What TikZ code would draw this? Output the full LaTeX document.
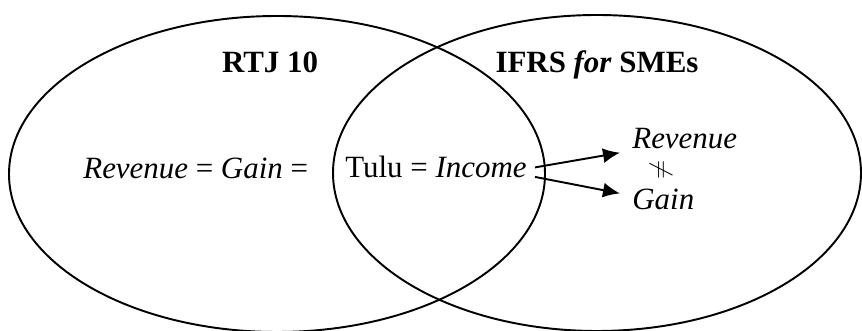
\documentclass[tikz,border=0pt]{standalone}
\usepackage{fontspec}
\setmainfont{Liberation Serif}
\usetikzlibrary{arrows.meta}

\begin{document}
\begin{tikzpicture}[font=\fontsize{17.6}{21}\selectfont,
  every node/.style={inner sep=0pt, anchor=base},
  arr/.style={line width=1.1pt, -{Latex[length=0.34cm,width=0.3cm]}}]

\useasboundingbox (0,0) rectangle (17.24,6.62);

\draw[line width=1.1pt] (5.54,3.14) ellipse (5.36 and 3.16);  % RTJ 10
\draw[line width=1.1pt] (11.94,3.16) ellipse (5.28 and 3.16); % IFRS for SMEs

\node (rtj) at (5.40,5.16) {\textbf{RTJ 10}};
\node (ifrs) at (11.94,5.16) {\textbf{IFRS \textit{for} SMEs}};

\node (left) at (1.66,3.04)[anchor=base west] {\textit{Revenue} = \textit{Gain} =};
\node (tulu) at (6.90,3.06)[anchor=base west] {Tulu = \textit{Income}};

\node (rev) at (12.64,3.64)[anchor=base west] {\textit{Revenue}};
\node (gain) at (12.64,2.42)[anchor=base west] {\textit{Gain}};
\node (neq) at (13.22,3.22)[anchor=center, rotate=90, font=\fontsize{15}{18}\selectfont] {$\neq$};

\draw[arr] ([xshift=0.16cm]tulu.east) -- ([xshift=-0.24cm,yshift=-0.06cm]rev.south west);
\draw[arr] ([xshift=0.16cm,yshift=-0.19cm]tulu.east) -- ([xshift=-0.24cm,yshift=0.13cm]gain.west);

\end{tikzpicture}
\end{document}
